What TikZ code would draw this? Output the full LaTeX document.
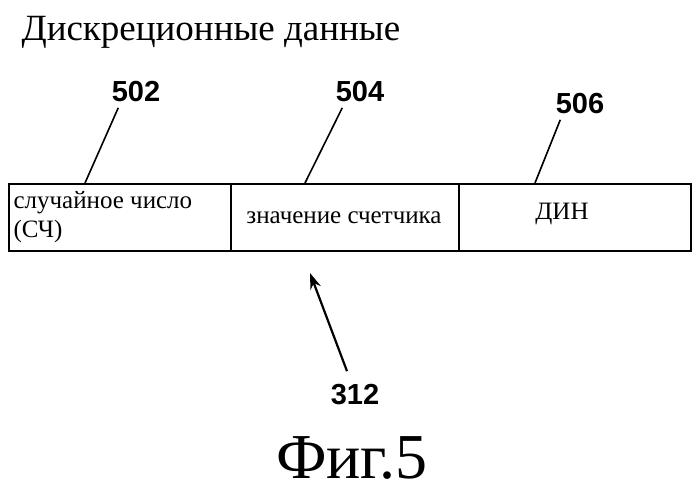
\documentclass[tikz,border=0pt]{standalone}
\usepackage{fontspec}
\setmainfont{Liberation Serif}
\newfontfamily\numfont{Liberation Sans}
\usetikzlibrary{arrows.meta, positioning}

\begin{document}
\begin{tikzpicture}[x=1pt, y=-1pt,
  cell/.style={rectangle, draw, line width=2pt, minimum height=67pt, inner sep=0pt, anchor=north west},
  refnum/.style={font=\numfont\bfseries\fontsize{29}{29}\selectfont},
  leader/.style={line width=1.6pt},
  ptr/.style={-{Stealth[length=16pt, width=11pt]}, line width=2.2pt}
]
  \useasboundingbox (0,0) rectangle (699,490);
  % Title
  \node[anchor=west, font=\fontsize{37}{37}\selectfont] (title) at (18,32) {Дискреционные данные};

  % Fields
  \node[cell, minimum width=222pt] (rn) at (8,183) {};
  \node[cell, minimum width=228pt] (cnt) at (230,183) {};
  \node[cell, minimum width=232pt] (din) at (458,183) {};
  \node[anchor=west, align=left, font=\fontsize{25}{29}\selectfont] (rntext) at (10,217) {случайное число\\(СЧ)};
  \node[font=\fontsize{25}{29}\selectfont] (cnttext) at (344,218) {значение счетчика};
  \node[font=\fontsize{25}{29}\selectfont] (dintext) at (562,214) {ДИН};

  % Reference numbers
  \node[refnum] (n502) at (136,92) {502};
  \node[refnum] (n504) at (360,92) {504};
  \node[refnum] (n506) at (580,104) {506};
  \node[refnum] (n312) at (355,395) {312};
  \coordinate (t502) at (85,183);
  \coordinate (t504) at (305,183);
  \coordinate (t506) at (535,183);
  \coordinate (t312) at (310,273);
  \draw[leader] (n502.south west) ++(10,2) -- (t502);
  \draw[leader] (n504.south west) ++(10,2) -- (t504);
  \draw[leader] (n506.south west) ++(8,2) -- (t506);
  \draw[ptr] (n312.north) ++(-8,-10) -- (t312);

  % Caption
  \node[font=\fontsize{64}{64}\selectfont] (caption) at (352,458) {Фиг.5};
\end{tikzpicture}
\end{document}
